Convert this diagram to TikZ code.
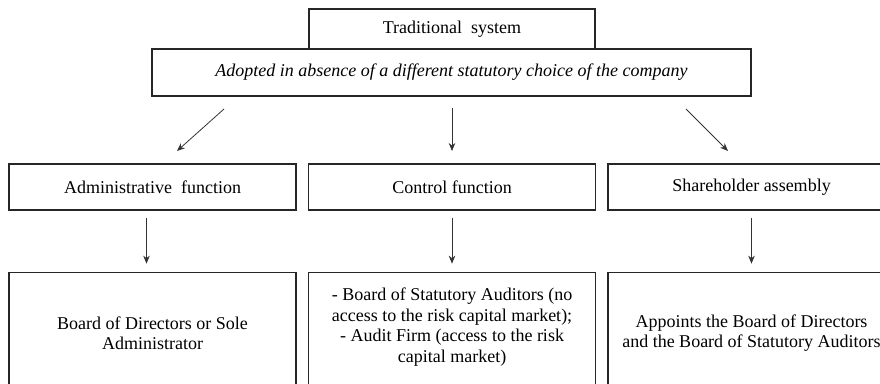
\documentclass[tikz,border=0pt]{standalone}
\usepackage{fontspec}
\setmainfont{Liberation Serif}
\usetikzlibrary{arrows.meta}
\tikzset{
  box/.style={draw=black!85,line width=1.3pt,minimum width=287,minimum height=46,inner sep=0pt},
  tallbox/.style={box,anchor=north,minimum height=160},
  arr/.style={->,line width=0.8pt,draw=black!80}
}
\begin{document}
\begin{tikzpicture}[x=1pt,y=1pt,>={Stealth[length=8pt,width=6.5pt]},font=\fontsize{18}{20.5}\selectfont]
  \useasboundingbox (0,0) rectangle (880,-383);
  \clip (0,0) rectangle (880,-383);
  % top
  \node[box,minimum width=286,minimum height=41] (trad) at (452,-29.5) {Traditional\ \ system};
  \node[box,minimum width=599,minimum height=47,fill=white] (adopt) at (451.5,-72.5) {\itshape Adopted in absence of a different statutory choice of the company};
  % functions
  \node[box] (admin) at (152.5,-187) {Administrative\ \ function};
  \node[box] (control) at (452,-187) {Control function};
  \node[box] (share) at (751.5,-187) {Shareholder assembly};
  \coordinate (l0) at (224,-109); \coordinate (l1) at (177,-151);
  \coordinate (c0) at (452,-108); \coordinate (c1) at (452,-151);
  \coordinate (r0) at (686,-109); \coordinate (r1) at (728,-151);
  \draw[arr] (l0)--(l1);
  \draw[arr] (c0)--(c1);
  \draw[arr] (r0)--(r1);
  % bottom row
  \node[tallbox] (board) at (152.5,-272) {};
  \node[tallbox] (audit) at (452,-272) {};
  \node[tallbox] (appoint) at (751.5,-272) {};
  \node[align=center] (boardtxt) at (board.north |- 0,-333) {Board of Directors or Sole\\Administrator};
  \node[align=center] (audittxt) at (audit.north |- 0,-327) {- Board of Statutory Auditors (no\\access to the risk capital market);\\- Audit Firm (access to the risk\\capital market)};
  \node[align=center] (appointtxt) at (appoint.north |- 0,-333) {Appoints the Board of Directors\\and the Board of Statutory Auditors};
  \draw[arr] ([xshift=-6]admin.south)++(0,-7)--++(0,-46);
  \draw[arr] (control.south)++(0,-7)--++(0,-46);
  \draw[arr] (share.south)++(0,-7)--++(0,-46);
\end{tikzpicture}
\end{document}
